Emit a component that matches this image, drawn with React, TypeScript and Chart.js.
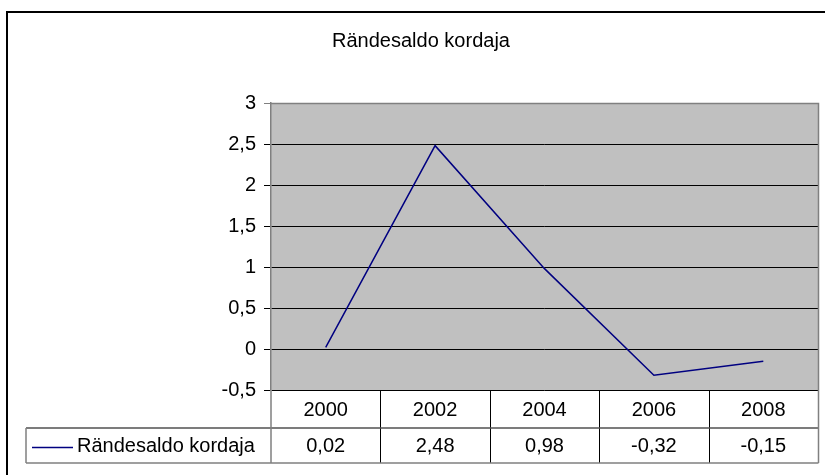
import React, { useEffect, useRef } from "react";
import { Chart, registerables } from "chart.js";

Chart.register(...registerables);

const chartTitle = "Rändesaldo kordaja";
const seriesName = "Rändesaldo kordaja";
const categories = ["2000", "2002", "2004", "2006", "2008"];
const values = [0.02, 2.48, 0.98, -0.32, -0.15];
const yMin = -0.5;
const yMax = 3;
const yStep = 0.5;

const W = 825;
const H = 475;
const FONT = '"Liberation Sans", Arial, sans-serif';
const FS = 20;

const fmt = (v: number, d: number) => v.toFixed(d).replace(".", ",");

const decor = {
  id: "decor",
  beforeDraw(chart: any) {
    const { ctx, chartArea: a } = chart;
    ctx.save();
    ctx.fillStyle = "#ffffff";
    ctx.fillRect(0, 0, chart.width, chart.height);
    ctx.fillStyle = "#c0c0c0";
    ctx.fillRect(a.left, a.top, a.right - a.left, a.bottom - a.top);
    ctx.restore();
  },
  afterDraw(chart: any) {
    const { ctx, chartArea: a } = chart;
    const xs = chart.scales.x;
    ctx.save();
    // plot area border (right + top)
    ctx.strokeStyle = "#808080";
    ctx.lineWidth = 1.5;
    ctx.beginPath();
    ctx.moveTo(a.left, a.top + 0.5);
    ctx.lineTo(a.right + 0.5, a.top + 0.5);
    ctx.lineTo(a.right + 0.5, a.bottom);
    ctx.stroke();

    // outer border
    ctx.strokeStyle = "#000000";
    ctx.lineWidth = 2;
    ctx.strokeRect(7, 12, W + 20, H + 20);

    // title
    ctx.fillStyle = "#000000";
    ctx.font = `${FS}px ${FONT}`;
    ctx.textAlign = "center";
    ctx.textBaseline = "middle";
    ctx.fillText(chartTitle, 421, 41);

    // data table
    const n = categories.length;
    const colW = (a.right - a.left) / n;
    const y0 = a.bottom;
    const y1 = a.bottom + 38;
    const y2 = a.bottom + 73;
    const legLeft = 26;

    // column separators
    ctx.strokeStyle = "#000000";
    ctx.lineWidth = 1;
    for (let i = 1; i < n; i++) {
      const x = Math.round(a.left + i * colW) + 0.5;
      ctx.beginPath();
      ctx.moveTo(x, y0);
      ctx.lineTo(x, y2);
      ctx.stroke();
    }
    // middle horizontal line
    ctx.strokeStyle = "#505050";
    ctx.lineWidth = 1.5;
    ctx.beginPath();
    ctx.moveTo(legLeft, y1);
    ctx.lineTo(a.right + 0.5, y1);
    ctx.stroke();
    // gray outer lines
    ctx.strokeStyle = "#808080";
    ctx.lineWidth = 1.5;
    ctx.beginPath();
    ctx.moveTo(a.left, y0);
    ctx.lineTo(a.left, y2);
    ctx.moveTo(a.right + 0.5, y0);
    ctx.lineTo(a.right + 0.5, y2);
    ctx.moveTo(legLeft, y1);
    ctx.lineTo(legLeft, y2);
    ctx.moveTo(legLeft, y2);
    ctx.lineTo(a.right + 0.5, y2);
    ctx.stroke();

    // texts
    ctx.fillStyle = "#000000";
    ctx.font = `${FS}px ${FONT}`;
    ctx.textAlign = "center";
    ctx.textBaseline = "middle";
    categories.forEach((c, i) => {
      const x = xs.getPixelForValue(i);
      ctx.fillText(c, x, (y0 + y1) / 2 + 1);
      ctx.fillText(fmt(values[i], 2), x, (y1 + y2) / 2 + 1);
    });

    // legend key
    const ly = (y1 + y2) / 2 + 2;
    ctx.strokeStyle = "#000080";
    ctx.lineWidth = 1.5;
    ctx.beginPath();
    ctx.moveTo(32, ly);
    ctx.lineTo(73, ly);
    ctx.stroke();
    ctx.textAlign = "left";
    ctx.fillText(seriesName, 77, (y1 + y2) / 2 + 1);
    ctx.restore();
  },
};

export default function App() {
  const ref = useRef<HTMLCanvasElement | null>(null);
  useEffect(() => {
    if (!ref.current) return;
    const chart = new Chart(ref.current, {
      type: "line",
      data: {
        labels: categories,
        datasets: [
          {
            label: seriesName,
            data: values,
            borderColor: "#000080",
            borderWidth: 1.5,
            pointRadius: 0,
            tension: 0,
            fill: false,
          },
        ],
      },
      options: {
        animation: false,
        responsive: false,
        devicePixelRatio: 1,
        layout: { padding: { left: 191, top: 103, right: 7, bottom: 85 } },
        plugins: {
          legend: { display: false },
          title: { display: false },
          tooltip: { enabled: false },
        },
        scales: {
          x: {
            type: "category",
            display: false,
            offset: true,
          },
          y: {
            min: yMin,
            max: yMax,
            afterFit: (s: any) => {
              s.width = 80;
            },
            ticks: {
              stepSize: yStep,
              color: "#000000",
              padding: 8,
              font: { family: FONT, size: FS },
              callback: (v: any) => {
                const num = Number(v);
                return Number.isInteger(num) ? String(num) : fmt(num, 1);
              },
            },
            grid: {
              color: (c: any) => (c.tick && c.tick.value === yMax ? "#808080" : "#000000"),
              lineWidth: 1,
              tickLength: 7,
              drawTicks: true,
            },
            border: { color: "#808080", width: 1.5 },
          },
        },
      },
      plugins: [decor],
    });
    return () => chart.destroy();
  }, []);
  return (
    <div style={{ position: "fixed", left: 0, top: 0, width: W, height: H, background: "#fff" }}>
      <canvas ref={ref} width={W} height={H} style={{ width: W, height: H, display: "block" }} />
    </div>
  );
}
